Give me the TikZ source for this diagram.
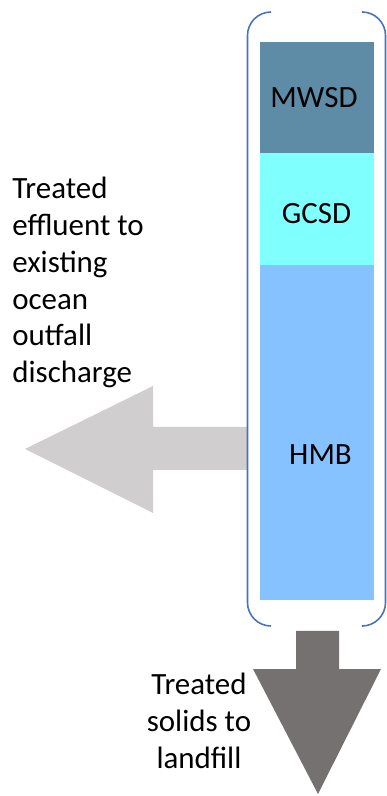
\documentclass[tikz,border=0pt]{standalone}
\usepackage{fontspec}
\setmainfont{Carlito}
\usetikzlibrary{positioning}
\definecolor{mwsdBlue}{HTML}{5E8CA6}
\definecolor{gcsdCyan}{HTML}{80FFFF}
\definecolor{hmbBlue}{HTML}{85C2FF}
\definecolor{bracketBlue}{HTML}{4472C4}
\definecolor{effluentGray}{HTML}{D0CECE}
\definecolor{solidsGray}{HTML}{767171}

\begin{document}
\begin{tikzpicture}[font=\fontsize{17.6}{21}\selectfont,
    layer/.style={minimum width=2.28cm, inner sep=0pt, outer sep=0pt},
    lbl/.style={anchor=base, inner sep=0pt}]
  \useasboundingbox (0,0) rectangle (7.74,15.92);
  % Flecha efluente (izquierda)
  \fill[effluentGray] (4.95,7.38) -- (3.06,7.38) -- (3.06,8.20) -- (0.50,6.94)
    -- (3.06,5.66) -- (3.06,6.52) -- (4.95,6.52) -- cycle;
  % Flecha solidos (abajo)
  \fill[solidsGray] (5.92,3.30) -- (5.92,2.54) -- (5.06,2.54) -- (6.36,0.04)
    -- (7.62,2.54) -- (6.78,2.54) -- (6.78,3.30) -- cycle;
  % Capas
  \node[layer, fill=mwsdBlue, minimum height=2.22cm, anchor=north] (mwsd) at (6.34,15.08) {};
  \node[layer, fill=gcsdCyan, minimum height=2.24cm, below=0pt of mwsd] (gcsd) {};
  \node[layer, fill=hmbBlue, minimum height=6.70cm, below=0pt of gcsd] (hmb) {};
  \node[lbl] (mwsdTxt) at (6.28,13.76) {MWSD};
  \node[lbl] (gcsdTxt) at (6.33,11.44) {GCSD};
  \node[lbl] (hmbTxt) at (6.41,6.62) {HMB};
  % Soporte (corchetes)
  \draw[bracketBlue, line width=0.9pt, rounded corners=0.47cm]
    (5.42,15.68) -- (4.95,15.68) -- (4.95,3.40) -- (5.42,3.40);
  \draw[bracketBlue, line width=0.9pt, rounded corners=0.47cm]
    (7.26,15.68) -- (7.71,15.68) -- (7.71,3.40) -- (7.26,3.40);
  % Textos
  \node[anchor=north west, align=left, inner sep=0pt] (effluentTxt) at (0.24,12.39)
    {Treated\\effluent to\\existing\\ocean\\outfall\\discharge};
  \node[anchor=north, align=center, inner sep=0pt] (solidsTxt) at (3.98,2.47)
    {Treated\\solids to\\landfill};
\end{tikzpicture}
\end{document}
